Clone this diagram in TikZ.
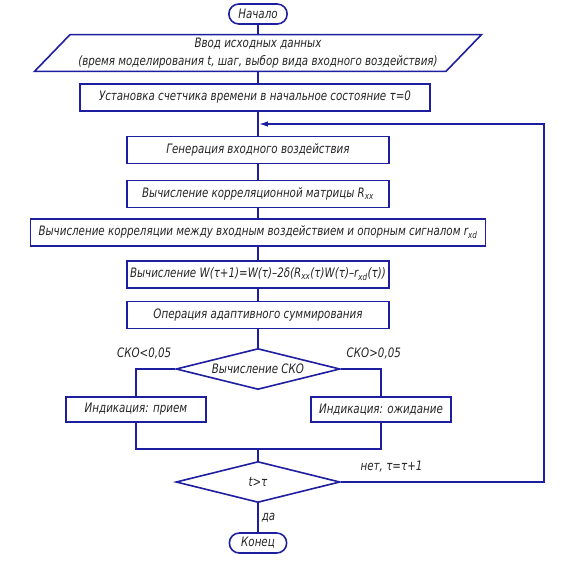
\documentclass[tikz,border=0pt]{standalone}
\usepackage{fontspec}
\newfontfamily\chartfont{DejaVu Sans Condensed Oblique}[FakeStretch=0.88]
\usetikzlibrary{arrows.meta, positioning, calc}
\usetikzlibrary{shapes.geometric, shapes.misc}

\definecolor{lineblue}{RGB}{30,30,160}

\begin{document}
\begin{tikzpicture}[
    node distance=40pt,
    every node/.style={font=\chartfont\fontsize{13}{15}\selectfont, text=black!85}, % drafting-like italic text
    block/.style={draw=lineblue, line width=1.6pt, rectangle, minimum height=27pt, inner sep=2pt},
    terminal/.style={draw=lineblue, line width=1.6pt, rounded rectangle, minimum height=20pt, minimum width=65pt},
    inputbox/.style={draw=lineblue, line width=1.6pt, trapezium, trapezium left angle=46, trapezium right angle=134, trapezium stretches body, minimum height=36pt, minimum width=447pt, align=center, font=\chartfont\fontsize{13}{18}\selectfont},
    decision/.style={draw=lineblue, line width=1.6pt, diamond, aspect=4, minimum width=164pt, minimum height=41pt, inner sep=0pt},
    lbl/.style={inner sep=1pt},
    line/.style={draw=lineblue, line width=1.6pt},
    loopline/.style={line, -{Latex[length=9pt,width=5.5pt]}, shorten >=0.8pt}
]

% page frame
\path[fill=white, use as bounding box] (0,0) rectangle (581pt,-563pt);

% Start
\node[terminal] (begin) at (258pt,-14pt) {Начало};

% Input data
\node[inputbox, below of=begin, node distance=39pt] (input) {Ввод исходных данных\\(время моделирования t, шаг, выбор вида входного воздействия)};

% Timer reset
\node[block, minimum width=350pt, below of=input, node distance=44.5pt, xshift=-3pt] (reset) {Установка счетчика времени в начальное состояние τ=0};
\coordinate[below of=input, node distance=71pt] (loopin);

% Main loop body
\node[block, minimum width=262pt, below of=input, node distance=97pt] (gen) {Генерация входного воздействия};
\node[block, minimum width=262pt, below of=gen, node distance=44pt] (rxx) {Вычисление корреляционной матрицы R\textsubscript{xx}};
\node[block, minimum width=455pt, below of=rxx, node distance=38.5pt] (rxd) {Вычисление корреляции между входным воздействием и опорным сигналом r\textsubscript{xd}};
\node[block, minimum width=262pt, below of=rxd, node distance=42pt] (weights) {Вычисление W(τ+1)=W(τ)–2δ(R\textsubscript{xx}(τ)W(τ)–r\textsubscript{xd}(τ))};
\node[block, minimum width=262pt, below of=weights, node distance=40.5pt] (adapt) {Операция адаптивного суммирования};

% Error check
\node[decision, below of=adapt, node distance=54pt] (sko) {Вычисление СКО};
\node[lbl] at ($(sko.west)+(-31pt,16pt)$) {СКО<0,05};
\node[lbl] at ($(sko.east)+(33pt,16pt)$) {СКО>0,05};

% Indication boxes
\node[block, minimum width=140pt, minimum height=25pt, below of=sko, node distance=40.5pt, xshift=-122pt] (accept) {Индикация: прием};
\node[block, minimum width=140pt, minimum height=25pt, below of=sko, node distance=40.5pt, xshift=123pt] (wait) {Индикация: ожидание};
\coordinate[below of=sko, node distance=80pt] (merge);

% Time check and end
\node[decision, below of=sko, node distance=113pt] (check) {t>τ};
\node[terminal, minimum width=64pt, below of=check, node distance=61pt] (finish) {Конец};
\coordinate (loopright) at ($(check.east)+(203pt,0)$);

% Arrows
\path[line] (begin) -- (input);
\path[line] (input) -- (input |- reset.north);
\path[line] (input |- reset.south) -- (gen);
\path[line] (gen) -- (rxx);
\path[line] (rxx) -- (rxd);
\path[line] (rxd) -- (weights);
\path[line] (weights) -- (adapt);
\path[line] (adapt) -- (sko);
\path[line] (sko.west) -| (accept.north);
\path[line] (sko.east) -| (wait.north);
\path[line] (accept.south) |- (merge) -| (wait.south);
\path[line] (merge) -- (check.north);
\path[line] (check.south) -- node[lbl, right=2pt] {да} (finish.north);
\path[loopline] (check.east) -- node[lbl, above=8pt, pos=0.25] {нет, τ=τ+1} (loopright) |- (loopin); % back to the loop start

\end{tikzpicture}
\end{document}
